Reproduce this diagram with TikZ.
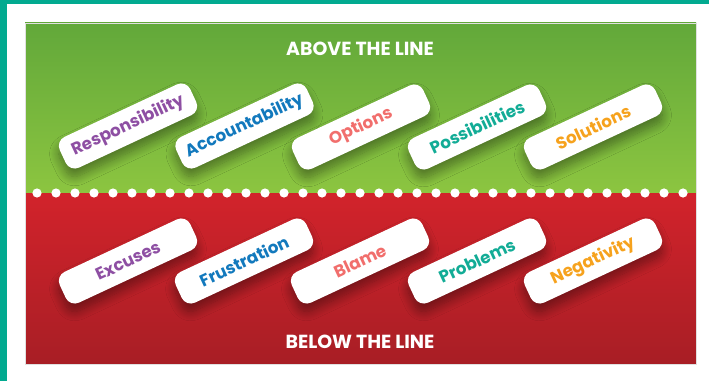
\documentclass[tikz,border=0pt]{standalone}
\usepackage{fontspec}
\setmainfont{Poppins}
\usepackage{tikz}
\usetikzlibrary{shadows.blur}
\definecolor{tealframe}{HTML}{02AA90}
\definecolor{greentop}{HTML}{62A83A}
\definecolor{greenlow}{HTML}{8CC540}
\definecolor{redtop}{HTML}{D2232B}
\definecolor{redlow}{HTML}{A81E25}
\definecolor{wordpurple}{HTML}{8E4FA3}
\definecolor{wordblue}{HTML}{1279BD}
\definecolor{wordsalmon}{HTML}{F16E6C}
\definecolor{wordteal}{HTML}{12AC96}
\definecolor{wordorange}{HTML}{F6A21D}

\begin{document}
\begin{tikzpicture}[x=0.75pt,y=0.75pt,yscale=-1,xscale=1,
  pill/.style={fill=white,rounded corners=7.5pt,minimum width=108pt,minimum height=25.5pt,inner sep=0pt,rotate=25,
    font=\bfseries\fontsize{12.6}{14}\selectfont,
    blur shadow={shadow xshift=0pt,shadow yshift=-6pt,shadow blur radius=7pt,shadow blur steps=12,shadow opacity=40}},
  banner/.style={text=white,inner sep=0.75pt,font=\bfseries\fontsize{14.2}{16}\selectfont}]
%set diagram size 709 x 381
\useasboundingbox (0,0) rectangle (709,381);
\fill[white] (0,0) rectangle (709,381);

%Shape: Frame bands
\fill[tealframe] (0,0) rectangle (709,4.5);
\fill[tealframe] (0,0) rectangle (6.5,381);

%Shape: Green area
\shade[top color=greentop,bottom color=greenlow] (25,23) rectangle (696,193);
%Shape: Red area
\shade[top color=redtop,bottom color=redlow] (25,193) rectangle (696,364);
\draw[black!12,line width=0.5pt] (25,23) rectangle (696,364);

%Shape: Dots on the line
\fill[white] (37,193) circle (4.6);
\fill[white] (56,193) circle (4.6);
\fill[white] (75,193) circle (4.6);
\fill[white] (94,193) circle (4.6);
\fill[white] (113,193) circle (4.6);
\fill[white] (132,193) circle (4.6);
\fill[white] (151,193) circle (4.6);
\fill[white] (170,193) circle (4.6);
\fill[white] (189,193) circle (4.6);
\fill[white] (208,193) circle (4.6);
\fill[white] (227,193) circle (4.6);
\fill[white] (246,193) circle (4.6);
\fill[white] (265,193) circle (4.6);
\fill[white] (284,193) circle (4.6);
\fill[white] (303,193) circle (4.6);
\fill[white] (322,193) circle (4.6);
\fill[white] (341,193) circle (4.6);
\fill[white] (360,193) circle (4.6);
\fill[white] (379,193) circle (4.6);
\fill[white] (398,193) circle (4.6);
\fill[white] (417,193) circle (4.6);
\fill[white] (436,193) circle (4.6);
\fill[white] (455,193) circle (4.6);
\fill[white] (474,193) circle (4.6);
\fill[white] (493,193) circle (4.6);
\fill[white] (512,193) circle (4.6);
\fill[white] (531,193) circle (4.6);
\fill[white] (550,193) circle (4.6);
\fill[white] (569,193) circle (4.6);
\fill[white] (588,193) circle (4.6);
\fill[white] (607,193) circle (4.6);
\fill[white] (626,193) circle (4.6);
\fill[white] (645,193) circle (4.6);
\fill[white] (664,193) circle (4.6);
\fill[white] (683,193) circle (4.6);

% Text Node
\node[banner] (above) at (360,49) {ABOVE THE LINE};
% Text Node
\node[banner] (below) at (360,342) {BELOW THE LINE};

% Pill Nodes: above the line
\node[pill,text=wordpurple] (resp) at (128,126) {Responsibility};
\node[pill,text=wordblue] (acc) at (244.5,126) {Accountability};
\node[pill,text=wordsalmon] (opt) at (361,127) {Options};
\node[pill,text=wordteal] (poss) at (477,127) {Possibilities};
\node[pill,text=wordorange] (sol) at (593,127) {Solutions};

% Pill Nodes: below the line
\node[pill,text=wordpurple] (exc) at (128,261) {Excuses};
\node[pill,text=wordblue] (frus) at (244,261) {Frustration};
\node[pill,text=wordsalmon] (blame) at (360,261) {Blame};
\node[pill,text=wordteal] (prob) at (477,261) {Problems};
\node[pill,text=wordorange] (neg) at (593,261) {Negativity};

\end{tikzpicture}
\end{document}
